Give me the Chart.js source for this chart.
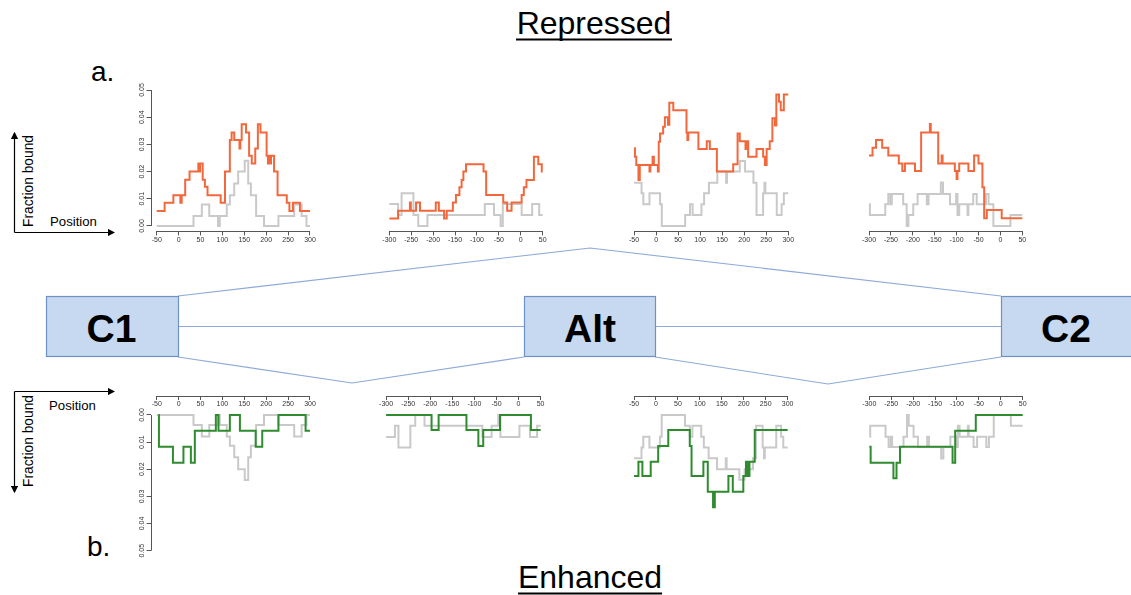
<!DOCTYPE html>
<html>
<head>
<meta charset="utf-8">
<script src="https://cdn.jsdelivr.net/npm/chart.js@4/dist/chart.umd.min.js"></script>
<style>
body { margin: 0; background: #fff; }
#fig { position: relative; width: 1131px; height: 595px; overflow: hidden; font-family: Arial, "Liberation Sans", sans-serif; }
#fig canvas { position: absolute; }
#fig svg { position: absolute; left: 0; top: 0; }
</style>
</head>
<body>
<div id="fig">
<svg width="1131" height="595">
  <defs>
    <marker id="arr" viewBox="0 0 6 6" refX="5" refY="3" markerWidth="6" markerHeight="6" orient="auto">
      <path d="M0,0 L6,3 L0,6 z" fill="#000"/>
    </marker>
  </defs>
  <!-- titles -->
  <text x="594" y="33.5" font-size="32" text-anchor="middle">Repressed</text>
  <line x1="516" y1="39.5" x2="672" y2="39.5" stroke="#000" stroke-width="2"/>
  <text x="590" y="588" font-size="32" text-anchor="middle">Enhanced</text>
  <line x1="518" y1="593.5" x2="662" y2="593.5" stroke="#000" stroke-width="2"/>
  <text x="91" y="81" font-size="28">a.</text>
  <text x="87" y="556" font-size="28">b.</text>

  <!-- axis keys -->
  <line x1="14.5" y1="232.5" x2="14.5" y2="133" stroke="#000" stroke-width="1.2" marker-end="url(#arr)"/>
  <line x1="14.5" y1="232.5" x2="114" y2="232.5" stroke="#000" stroke-width="1.2" marker-end="url(#arr)"/>
  <text transform="translate(33,181) rotate(-90)" font-size="13.8" text-anchor="middle">Fraction bound</text>
  <text x="50" y="226" font-size="13.2">Position</text>

  <line x1="14.5" y1="391.5" x2="114" y2="391.5" stroke="#000" stroke-width="1.2" marker-end="url(#arr)"/>
  <line x1="14.5" y1="391.5" x2="14.5" y2="492" stroke="#000" stroke-width="1.2" marker-end="url(#arr)"/>
  <text transform="translate(33,441) rotate(-90)" font-size="13.8" text-anchor="middle">Fraction bound</text>
  <text x="49" y="410" font-size="13.2">Position</text>

  <!-- exon diagram -->
  <g stroke="#8eaad8" stroke-width="1.1" fill="none">
    <polyline points="178,296 590,248 1001,296"/>
    <line x1="178" y1="326.5" x2="524" y2="326.5"/>
    <line x1="655" y1="326.5" x2="1001" y2="326.5"/>
    <polyline points="178,357 352,383 524,357"/>
    <polyline points="655,357 828,384 1001,357"/>
  </g>
  <g fill="#c6d9f0" stroke="#7091c3" stroke-width="1.2">
    <rect x="46.5" y="296.5" width="132" height="60"/>
    <rect x="524.5" y="296.5" width="131" height="60"/>
    <rect x="1001.5" y="296.5" width="140" height="60"/>
  </g>
  <g font-size="39" font-weight="bold" text-anchor="middle" fill="#000">
    <text x="111.5" y="341.5">C1</text>
    <text x="590" y="341.5">Alt</text>
    <text x="1066" y="341.5">C2</text>
  </g>
</svg>
</div>

<script>
// tick positions
const posTicksA = [-50, 0, 50, 100, 150, 200, 250, 300];
const posTicksB = [-300, -250, -200, -150, -100, -50, 0, 50];
const fracTicks = [0, 0.01, 0.02, 0.03, 0.04, 0.05];

// step series: position where each level starts, then the level
// repressed (orange)
const rep1Pos = [-50, -32, -12, 4, 7, 15, 25, 45, 47, 49, 55, 60, 66, 96, 106, 117, 121, 127, 139, 141, 144, 154, 161, 167, 175, 181, 187, 201, 204, 206, 209, 211, 218, 226, 247, 253, 261, 277, 300];
const rep1Val = [0.0055, 0.0085, 0.0113, 0.0085, 0.0113, 0.017, 0.020, 0.023, 0.020, 0.023, 0.017, 0.0144, 0.0113, 0.0085, 0.020, 0.0316, 0.0344, 0.0316, 0.0285, 0.0316, 0.0374, 0.0344, 0.0258, 0.023, 0.0285, 0.0374, 0.0344, 0.0258, 0.023, 0.0258, 0.023, 0.0258, 0.020, 0.0113, 0.0085, 0.0055, 0.0085, 0.0055, 0.0055];

const rep2Pos = [-300, -280, -253, -251, -239, -230, -194, -187, -175, -169, -155, -148, -140, -135, -131, -125, -85, -79, -40, -31, -21, 2, 7, 13, 30, 40, 48, 50];
const rep2Val = [0.0027, 0.0056, 0.0086, 0.0056, 0.0086, 0.0056, 0.0086, 0.0056, 0.0027, 0.0056, 0.0086, 0.0114, 0.0142, 0.0169, 0.020, 0.0227, 0.020, 0.0114, 0.0086, 0.0056, 0.0086, 0.0114, 0.0142, 0.0169, 0.0255, 0.0227, 0.020, 0.020];

const rep3Pos = [-50, -48, -45, -40, -37, -15, -13, -8, -5, 4, 6, 9, 16, 20, 27, 30, 39, 69, 71, 73, 96, 115, 122, 138, 175, 185, 190, 203, 206, 209, 228, 243, 247, 251, 258, 264, 270, 273, 279, 283, 290, 300];
const rep3Val = [0.0286, 0.0255, 0.0224, 0.0169, 0.0224, 0.020, 0.0224, 0.0255, 0.0224, 0.020, 0.031, 0.034, 0.0365, 0.040, 0.0372, 0.0453, 0.0426, 0.0344, 0.0316, 0.0344, 0.0283, 0.0312, 0.0283, 0.020, 0.0227, 0.034, 0.0312, 0.0283, 0.0312, 0.0255, 0.0283, 0.0255, 0.0224, 0.0283, 0.0312, 0.0396, 0.037, 0.0484, 0.0457, 0.0426, 0.0484, 0.0484];

const rep4Pos = [-300, -292, -284, -270, -256, -232, -224, -218, -195, -181, -161, -159, -142, -134, -132, -104, -100, -98, -94, -73, -60, -50, -41, -37, -31, 3, 50];
const rep4Val = [0.0259, 0.0288, 0.0316, 0.0288, 0.0259, 0.023, 0.0202, 0.023, 0.0202, 0.0344, 0.0375, 0.0344, 0.023, 0.0259, 0.023, 0.0202, 0.0173, 0.0202, 0.023, 0.0202, 0.0259, 0.023, 0.0142, 0.0028, 0.0059, 0.0028, 0.0028];

// enhanced (green)
const enh1Pos = [-46, -45, -13, 11, 28, 37, 85, 91, 117, 140, 176, 191, 228, 290, 300];
const enh1Val = [0, 0.0117, 0.0176, 0.0117, 0.0176, 0.0058, 0, 0.0058, 0, 0.0058, 0.0117, 0.0058, 0, 0.0058, 0.0058];

const enh2Pos = [-300, -197, -181, -118, -91, -80, -42, 28, 50];
const enh2Val = [0, 0.0055, 0, 0.0055, 0.0114, 0.0055, 0, 0.0055, 0.0055];

const enh3Pos = [-50, -40, -31, -12, 5, 28, 77, 81, 108, 118, 130, 134, 165, 175, 199, 205, 209, 213, 225, 300];
const enh3Val = [0.0225, 0.0172, 0.0225, 0.0172, 0.0114, 0.0055, 0.0114, 0.0225, 0.0172, 0.0283, 0.034, 0.0283, 0.0225, 0.0283, 0.0225, 0.0172, 0.0225, 0.0172, 0.0055, 0.0055];

const enh4Pos = [-300, -297, -245, -238, -230, -110, -104, -57, 50];
const enh4Val = [0.0117, 0.0176, 0.0233, 0.0176, 0.0117, 0.0176, 0.0058, 0, 0];

// control (grey), same in both rows
const ctl1Pos = [-50, 34, 53, 70, 90, 94, 110, 117, 127, 136, 151, 159, 165, 177, 195, 228, 264, 281, 292, 300];
const ctl1Val = [0, 0.0037, 0.0079, 0.0037, 0, 0.0037, 0.0079, 0.0113, 0.0156, 0.020, 0.024, 0.0156, 0.0113, 0.0037, 0, 0.0037, 0.0079, 0.0037, 0, 0];

const ctl2Pos = [-300, -280, -272, -245, -234, -213, -82, -61, -46, -41, 2, 26, 42, 50];
const ctl2Val = [0.0081, 0.004, 0.012, 0.004, 0, 0.004, 0.0081, 0.004, 0, 0.0081, 0.004, 0.0081, 0.004, 0.004];

const ctl3Pos = [-50, -33, -29, -15, 9, 13, 66, 77, 83, 103, 109, 120, 139, 159, 161, 190, 202, 221, 228, 243, 246, 248, 274, 285, 290, 300];
const ctl3Val = [0.0159, 0.012, 0.008, 0.012, 0.008, 0, 0.004, 0.008, 0.004, 0.008, 0.012, 0.0159, 0.020, 0.0159, 0.020, 0.0239, 0.020, 0.0159, 0.004, 0.012, 0.0159, 0.012, 0.004, 0.008, 0.012, 0.012];

const ctl4Pos = [-300, -298, -263, -256, -251, -248, -222, -214, -210, -199, -189, -168, -164, -136, -131, -115, -101, -98, -94, -75, -73, -62, -54, -33, -27, -16, 23, 50];
const ctl4Val = [0.008, 0.004, 0.008, 0.0118, 0.008, 0.0118, 0.008, 0, 0.004, 0.008, 0.0118, 0.008, 0.0118, 0.016, 0.0118, 0.008, 0.0118, 0.004, 0.008, 0.004, 0.008, 0.0118, 0.008, 0.0118, 0.008, 0, 0.004, 0.004];

const ORANGE = '#f2683c';
const GREEN = '#2e8b2e';
const GREY = '#c9c9c9';
const AXIS = '#555';

Chart.defaults.font.family = 'Arial, "Liberation Sans", sans-serif';

const fig = document.getElementById('fig');

function toPoints(pos, val) {
    return pos.map((p, i) => ({ x: p, y: val[i] }));
}

// R-style axis lines: only from first to last tick
const rAxisLines = {
    id: 'rAxisLines',
    afterDraw(chart, args, opts) {
        const ctx = chart.ctx;
        const xs = chart.scales.x, ys = chart.scales.y;
        const xt = xs.ticks, yt = ys.ticks;
        const yEdge = Math.round(ys.getPixelForValue(ys.min)) + 0.5;
        ctx.save();
        ctx.strokeStyle = AXIS;
        ctx.lineWidth = 1;
        ctx.beginPath();
        ctx.moveTo(xs.getPixelForValue(xt[0].value), yEdge);
        ctx.lineTo(xs.getPixelForValue(xt[xt.length - 1].value), yEdge);
        if (opts.yAxis) {
            const xEdge = Math.round(chart.chartArea.left) + 0.5;
            ctx.moveTo(xEdge, ys.getPixelForValue(yt[0].value));
            ctx.lineTo(xEdge, ys.getPixelForValue(yt[yt.length - 1].value));
        }
        ctx.stroke();
        ctx.restore();
    }
};

function buildPanel(p) {
    const isTop = p.row === 'top';
    const yw = p.yAxis ? 18 : 0;
    const xh = isTop ? 18 : 0;
    const [l, r, t, b] = p.box;
    const cl = Math.floor(l - yw - 8);
    const ct = Math.floor(t - 8);
    const cw = Math.ceil(r + 10) - cl;
    const chh = Math.ceil(b + xh + 4) - ct;

    const cv = document.createElement('canvas');
    cv.width = cw;
    cv.height = chh;
    cv.style.left = cl + 'px';
    cv.style.top = ct + 'px';
    fig.appendChild(cv);

    const yMin = isTop ? -0.002 : -0.007;
    const xTicks = p.ticks;

    new Chart(cv, {
        type: 'line',
        data: {
            datasets: [
                { data: toPoints(p.main[0], p.main[1]), borderColor: p.color, borderWidth: 2, stepped: true, pointRadius: 0, fill: false },
                { data: toPoints(p.ctl[0], p.ctl[1]), borderColor: GREY, borderWidth: 2, stepped: true, pointRadius: 0, fill: false }
            ]
        },
        options: {
            responsive: false,
            animation: false,
            events: [],
            layout: { padding: { left: l - yw - cl, right: cl + cw - r, top: t - ct, bottom: ct + chh - b - xh } },
            plugins: { legend: { display: false }, tooltip: { enabled: false }, rAxisLines: { yAxis: p.yAxis } },
            scales: {
                x: {
                    type: 'linear',
                    min: p.lo, max: p.hi,
                    position: isTop ? 'bottom' : { y: yMin },
                    afterBuildTicks: s => { s.ticks = xTicks.map(v => ({ value: v })); },
                    afterFit: s => { if (isTop) s.height = xh; },
                    grid: { display: true, drawOnChartArea: false, drawTicks: true, tickLength: 4, color: AXIS },
                    border: { display: false },
                    ticks: { font: { size: 7 }, color: '#333', padding: 0, autoSkip: false, maxRotation: 0, minRotation: 0 }
                },
                y: {
                    type: 'linear',
                    display: p.yAxis,
                    min: yMin, max: 0.052,
                    reverse: !isTop,
                    afterBuildTicks: s => { s.ticks = fracTicks.map(v => ({ value: v })); },
                    afterFit: s => { s.width = yw; },
                    grid: { display: true, drawOnChartArea: false, drawTicks: true, tickLength: 4, color: AXIS },
                    border: { display: false },
                    ticks: {
                        font: { size: 7 }, color: '#333', padding: -2, crossAlign: 'center',
                        minRotation: 90, maxRotation: 90,
                        callback: v => v.toFixed(2)
                    }
                }
            }
        },
        plugins: [rAxisLines]
    });
}

const panels = [
    { row: 'top', box: [150.6, 316.1, 84.6, 231.4], ticks: posTicksA, lo: -64, hi: 314, yAxis: true, main: [rep1Pos, rep1Val], ctl: [ctl1Pos, ctl1Val], color: ORANGE },
    { row: 'top', box: [383.2, 548.8, 84.6, 231.4], ticks: posTicksB, lo: -314, hi: 64, yAxis: false, main: [rep2Pos, rep2Val], ctl: [ctl2Pos, ctl2Val], color: ORANGE },
    { row: 'top', box: [627.9, 794.4, 84.6, 231.4], ticks: posTicksA, lo: -64, hi: 314, yAxis: false, main: [rep3Pos, rep3Val], ctl: [ctl3Pos, ctl3Val], color: ORANGE },
    { row: 'top', box: [862.9, 1028.4, 84.6, 231.4], ticks: posTicksB, lo: -314, hi: 64, yAxis: false, main: [rep4Pos, rep4Val], ctl: [ctl4Pos, ctl4Val], color: ORANGE },
    { row: 'bottom', box: [150.6, 316.1, 396, 556.1], ticks: posTicksA, lo: -64, hi: 314, yAxis: true, main: [enh1Pos, enh1Val], ctl: [ctl1Pos, ctl1Val], color: GREEN },
    { row: 'bottom', box: [379.9, 546.8, 396, 556.1], ticks: posTicksB, lo: -314, hi: 64, yAxis: false, main: [enh2Pos, enh2Val], ctl: [ctl2Pos, ctl2Val], color: GREEN },
    { row: 'bottom', box: [627.9, 793.8, 396, 556.1], ticks: posTicksA, lo: -64, hi: 314, yAxis: false, main: [enh3Pos, enh3Val], ctl: [ctl3Pos, ctl3Val], color: GREEN },
    { row: 'bottom', box: [863.2, 1028.8, 396, 556.1], ticks: posTicksB, lo: -314, hi: 64, yAxis: false, main: [enh4Pos, enh4Val], ctl: [ctl4Pos, ctl4Val], color: GREEN }
];

panels.forEach(buildPanel);
</script>
</body>
</html>
